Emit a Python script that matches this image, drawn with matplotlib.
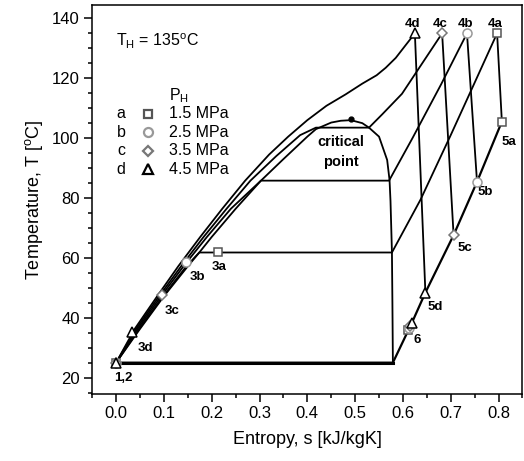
import matplotlib
matplotlib.use("Agg")
import matplotlib.pyplot as plt
from matplotlib.ticker import MultipleLocator, FormatStrFormatter

plt.rcParams['font.family'] = ['Liberation Sans', 'DejaVu Sans']
plt.rcParams['mathtext.fontset'] = 'custom'
plt.rcParams['mathtext.rm'] = 'Liberation Sans'

# saturation dome
domeLiqS = [0.0, 0.05, 0.10, 0.15, 0.174, 0.20, 0.25, 0.303, 0.35, 0.40, 0.418, 0.45, 0.47, 0.491]
domeLiqT = [25, 36.3, 47.2, 57.2, 61.8, 67, 76.4, 85.8, 93, 100.5, 103, 105.2, 105.8, 106]
domeVapS = [0.491, 0.515, 0.529, 0.550, 0.567, 0.572, 0.574, 0.577, 0.578, 0.579]
domeVapT = [106, 105, 103.5, 100.5, 92.7, 86, 79, 62, 45, 25]
criticalS, criticalT = 0.491, 106.5

# heating isobars 2 -> 4 (a: 1.5, b: 2.5, c: 3.5, d: 4.5 MPa)
heatS = {
    'a': [0.0, 0.048, 0.098, 0.147, 0.174, 0.577, 0.637, 0.70, 0.75, 0.797],
    'b': [0.0, 0.045, 0.094, 0.141, 0.190, 0.240, 0.303, 0.571, 0.62, 0.68, 0.734],
    'c': [0.0, 0.042, 0.090, 0.136, 0.183, 0.231, 0.281, 0.335, 0.385, 0.418,
          0.529, 0.557, 0.598, 0.640, 0.682],
    'd': [0.0, 0.039, 0.086, 0.130, 0.176, 0.222, 0.270, 0.32, 0.36, 0.40, 0.44,
          0.48, 0.515, 0.545, 0.564, 0.585, 0.603, 0.625],
}
heatT = {
    'a': [25, 36.3, 47.2, 57.2, 61.8, 61.8, 79.5, 101, 118.5, 135],
    'b': [25, 36.3, 47.2, 57.2, 67, 76.4, 85.8, 85.8, 100, 118, 135],
    'c': [25, 36.3, 47.2, 57.2, 67, 76.4, 85.8, 94, 101, 103.5,
          103.5, 108, 114.8, 124.9, 135],
    'd': [25, 36.3, 47.2, 57.2, 67, 76.4, 85.8, 94.5, 100.5, 106, 110.8,
          114.6, 118.2, 121, 123.5, 126.8, 130.5, 135],
}

# state points
s3 = {'a': 0.214, 'b': 0.147, 'c': 0.095, 'd': 0.033}
T3 = {'a': 61.8, 'b': 58.7, 'c': 47.6, 'd': 35.2}
s4 = {'a': 0.797, 'b': 0.734, 'c': 0.682, 'd': 0.625}
T4 = {'a': 135, 'b': 135, 'c': 135, 'd': 135}
s5 = {'a': 0.807, 'b': 0.755, 'c': 0.706, 'd': 0.647}
T5 = {'a': 105.5, 'b': 85.4, 'c': 67.6, 'd': 48.4}
s6 = {'a': 0.611, 'b': 0.612, 'c': 0.614, 'd': 0.619}
T6 = {'a': 35.9, 'b': 36.6, 'c': 37.3, 'd': 38.4}
s1, T1 = 0.0, 25

# condensing line 5 -> 1
condS = [0.807, 0.755, 0.706, 0.647, 0.619, 0.579, 0.0]
condT = [105.5, 85.4, 67.6, 48.4, 38.4, 25, 25]

cycles = ['a', 'b', 'c', 'd']
pressures = ['1.5 MPa', '2.5 MPa', '3.5 MPa', '4.5 MPa']
markers = {'a': 's', 'b': 'o', 'c': 'D', 'd': '^'}
edgeCols = {'a': '#555555', 'b': '#999999', 'c': '#777777', 'd': '#000000'}
msizes = {'a': 6, 'b': 6.5, 'c': 5.5, 'd': 7}

fig = plt.figure(figsize=(5.24, 4.61), dpi=100)
ax = fig.add_axes([0.176, 0.1464, 0.821, 0.8417])

lw = 1.3
ax.plot(domeLiqS, domeLiqT, color='black', lw=lw)
ax.plot(domeVapS, domeVapT, color='black', lw=lw)
ax.plot([criticalS], [criticalT], 'o', color='black', ms=3.5)

for c in cycles:
    ax.plot(heatS[c], heatT[c], color='black', lw=lw)
    ax.plot([s4[c], s5[c]], [T4[c], T5[c]], color='black', lw=lw)
ax.plot(condS, condT, color='black', lw=1.6)
ax.plot(condS[-2:], condT[-2:], color='black', lw=2.2)

for c in cycles:
    kw = dict(marker=markers[c], ms=msizes[c], mfc='white', mec=edgeCols[c], mew=1.1, ls='none', zorder=5)
    ax.plot([s1], [T1], **kw)
    ax.plot([s6[c]], [T6[c]], **kw)
    ax.plot([s5[c]], [T5[c]], **kw)
    ax.plot([s3[c]], [T3[c]], **kw)
    ax.plot([s4[c]], [T4[c]], **kw)

bold = dict(fontsize=9.5, fontweight='bold', ha='center', va='center')
for c in cycles:
    ax.text(s4[c] - 0.004, 138.0, '4' + c, **bold)
ax.text(0.821, 98.8, '5a', **bold)
ax.text(0.772, 82.1, '5b', **bold)
ax.text(0.729, 63.2, '5c', **bold)
ax.text(0.668, 43.7, '5d', **bold)
ax.text(0.630, 32.6, '6', **bold)
ax.text(0.216, 56.9, '3a', **bold)
ax.text(0.170, 53.7, '3b', **bold)
ax.text(0.118, 42.3, '3c', **bold)
ax.text(0.061, 30.0, '3d', **bold)
ax.text(0.015, 19.8, '1,2', **bold)
ax.text(0.470, 98.8, 'critical', fontsize=10.5, fontweight='bold', ha='center', va='center')
ax.text(0.470, 92.1, 'point', fontsize=10.5, fontweight='bold', ha='center', va='center')

# annotation and hand-made legend
ax.text(0.0, 132.2, r'T$_\mathrm{H}$ = 135$^\mathrm{o}$C', fontsize=11.5, ha='left', va='center')
ax.text(0.131, 114.2, r'P$_\mathrm{H}$', fontsize=11.5, ha='center', va='center')
for i, c in enumerate(cycles):
    ty = 108.2 - i * 6.2
    ax.text(0.010, ty, c, fontsize=11.5, ha='center', va='center')
    ax.plot([0.066], [ty], marker=markers[c], ms=msizes[c], mfc='white', mec=edgeCols[c], mew=1.6, ls='none')
    ax.text(0.110, ty, pressures[i], fontsize=11.5, ha='left', va='center')

ax.set_xlim(-0.05, 0.85)
ax.set_ylim(14.7, 144.3)
ax.xaxis.set_major_locator(MultipleLocator(0.1))
ax.xaxis.set_minor_locator(MultipleLocator(0.05))
ax.xaxis.set_major_formatter(FormatStrFormatter('%.1f'))
ax.yaxis.set_major_locator(MultipleLocator(20))
ax.yaxis.set_minor_locator(MultipleLocator(5))
ax.tick_params(which='both', direction='out', top=False, right=False, labelsize=12, width=1.1)
ax.tick_params(which='major', length=5.5)
ax.tick_params(which='minor', length=3)
for sp in ax.spines.values():
    sp.set_linewidth(1.1)

ax.set_xlabel('Entropy, s [kJ/kgK]', fontsize=13, labelpad=7)
ax.set_ylabel(r'Temperature, T [$^\mathrm{o}$C]', fontsize=13, labelpad=5)

fig.savefig('out.png', dpi=100)
